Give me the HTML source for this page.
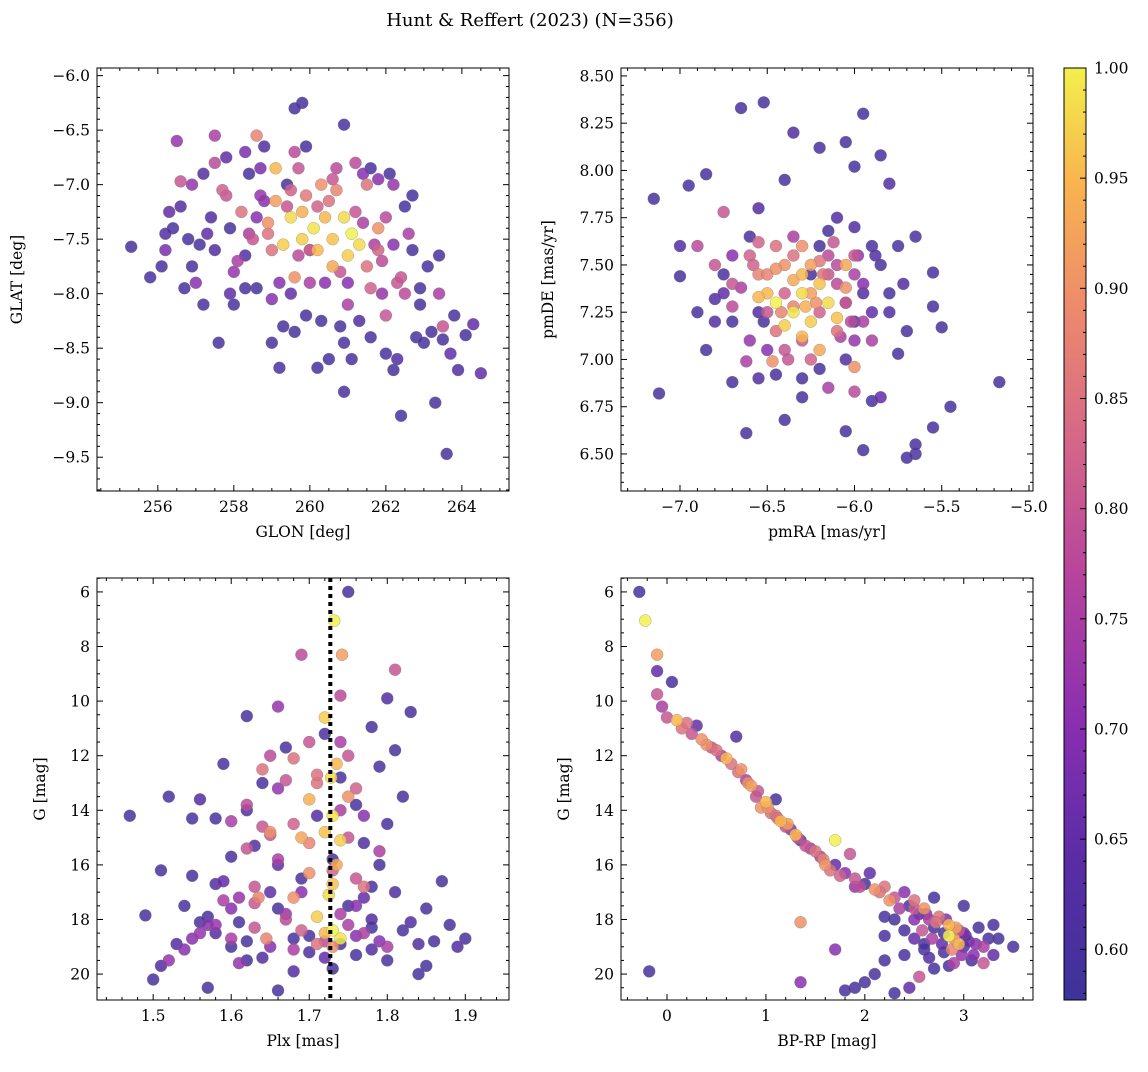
<!DOCTYPE html>
<html><head><meta charset="utf-8">
<style>
body{margin:0;background:#fff;}
svg text{font-family:"DejaVu Serif","Liberation Serif",serif;fill:#000;}
</style></head>
<body>
<svg id="fig" width="1148" height="1067" viewBox="0 0 1148 1067" xmlns="http://www.w3.org/2000/svg">
<rect width="1148" height="1067" fill="#fff"/>
<text x="530" y="26" font-size="18" text-anchor="middle">Hunt &amp; Reffert (2023) (N=356)</text>
<defs>
<linearGradient id="plasma" x1="0" y1="1" x2="0" y2="0">
<stop offset="0" stop-color="#3d3399"/><stop offset="0.15" stop-color="#5a2ca6"/><stop offset="0.3" stop-color="#8a2fb0"/><stop offset="0.45" stop-color="#b5439e"/><stop offset="0.6" stop-color="#d46788"/><stop offset="0.75" stop-color="#ee8c6a"/><stop offset="0.88" stop-color="#f9b54e"/><stop offset="1" stop-color="#f2f04b"/>
</linearGradient>
</defs>
</svg>
<script>
// ---- data ----
const p1Lon=[255.3,255.8,256.1,256.2,256.3,256.6,256.8,256.7,257.1,257.3,257.5,257.2,257.6,258.0,258.3,258.6,259.0,259.3,259.6,259.2,259.9,260.2,260.5,260.8,261.1,261.3,260.9,261.6,262.0,262.2,262.4,262.8,263.0,263.2,263.3,263.5,263.6,263.9,264.1,264.3,264.5,263.7,262.9,263.4,262.5,262.1,262.7,261.6,260.9,259.8,259.6,259.9,258.8,258.4,259.4,257.8,258.3,257.5,256.5,256.9,256.2,257.0,258.1,258.6,260.0,260.4,261.0,262.0,262.5,263.4,262.3,261.8,261.5,259.5,259.8,260.1,260.4,260.6,260.9,261.1,261.3,261.0,260.6,260.2,259.8,259.3,259.1,258.9,259.1,259.6,260.3,260.7,261.5,261.8,258.6,258.2,259.9,260.0,259.0,258.5,257.8,257.5,256.6,257.7,261.6,262.0,262.6,263.5,259.7,260.7,261.2,258.7,262.2,261.8,
258.9,259.4,259.7,260.2,260.8,261.4,261.9,262.4,258.4,258.0,257.9,258.8,259.5,260.5,261.2,261.7,262.2,262.7,260.0,259.2,258.3,257.4,256.9,257.9,259.0,260.3,261.0,261.9,262.9,263.1,260.6,261.4,259.6,258.7,256.4,257.2,259.5,260.9,262.3,263.8];
const p1Lat=[-7.57,-7.85,-7.75,-7.45,-7.25,-7.2,-7.5,-7.95,-7.55,-7.45,-7.6,-8.1,-8.45,-8.1,-7.65,-7.95,-8.45,-8.3,-8.35,-8.68,-8.2,-8.68,-8.6,-8.3,-8.6,-8.25,-8.9,-8.4,-8.55,-8.7,-9.12,-8.4,-8.45,-8.35,-9.0,-8.42,-9.47,-8.7,-8.38,-8.28,-8.73,-8.55,-7.95,-7.65,-7.2,-6.9,-7.1,-6.85,-6.45,-6.25,-6.3,-6.65,-6.65,-6.9,-7.0,-6.75,-6.7,-6.55,-6.6,-7.0,-7.6,-7.9,-7.7,-7.3,-7.6,-7.9,-8.1,-8.2,-8.0,-8.0,-7.9,-7.6,-7.75,-7.3,-7.5,-7.4,-7.3,-7.5,-7.3,-7.45,-7.55,-7.65,-7.75,-7.6,-7.25,-7.55,-7.15,-7.35,-6.85,-7.85,-7.0,-7.05,-7.0,-7.4,-6.55,-7.25,-7.1,-7.6,-7.6,-7.5,-7.1,-6.8,-6.97,-7.05,-7.95,-7.3,-7.45,-8.3,-6.85,-6.85,-6.8,-7.1,-7.0,-6.95,
-7.45,-7.2,-7.65,-7.2,-7.8,-7.35,-7.7,-7.85,-7.45,-7.8,-7.4,-7.15,-7.05,-7.15,-7.25,-7.55,-7.55,-7.6,-7.9,-7.9,-7.95,-7.3,-7.75,-8.0,-8.05,-8.25,-7.9,-8.0,-8.1,-7.75,-6.95,-6.9,-6.7,-6.85,-7.4,-6.9,-8.0,-8.45,-8.6,-8.2];
const p1Prob=[.6,.6,.6,.62,.65,.62,.6,.6,.6,.65,.62,.6,.6,.6,.62,.6,.6,.6,.6,.6,.6,.6,.6,.6,.6,.62,.6,.6,.6,.6,.6,.6,.6,.6,.6,.6,.6,.62,.6,.65,.65,.65,.6,.6,.6,.6,.6,.6,.6,.6,.6,.6,.62,.6,.6,.65,.68,.75,.72,.72,.68,.7,.75,.7,.72,.7,.75,.8,.78,.75,.8,.82,.85,.98,.97,.99,.95,.96,.98,1.0,.98,.97,.93,.95,.94,.97,.92,.9,.95,.9,.9,.88,.85,.9,.88,.85,.86,.82,.85,.8,.8,.78,.8,.82,.82,.78,.75,.8,.8,.78,.78,.72,.72,.7,
.85,.8,.78,.82,.8,.75,.78,.8,.75,.72,.6,.7,.82,.85,.8,.75,.7,.6,.75,.7,.6,.62,.6,.65,.7,.6,.7,.72,.6,.6,.8,.7,.78,.68,.6,.62,.65,.6,.62,.6];

const p2Ra=[-7.15,-7.12,-7.0,-6.95,-7.0,-6.85,-6.8,-6.7,-6.65,-6.52,-6.62,-6.55,-6.45,-6.4,-6.3,-6.35,-6.2,-6.05,-5.95,-6.0,-5.85,-5.8,-5.65,-5.55,-5.55,-5.5,-5.55,-5.45,-5.17,-5.65,-5.7,-5.65,-5.95,-6.05,-5.85,-5.9,-5.75,-5.8,-5.85,-5.9,-6.1,-6.2,-6.4,-6.55,-6.6,-6.75,-6.85,-6.7,-6.55,-6.25,-6.0,-6.05,-6.2,-6.3,-5.95,-6.15,-6.0,-5.75,-5.7,-6.9,-6.75,-6.8,-6.7,-6.62,-6.5,-6.4,-6.2,-6.1,-6.05,-6.0,-6.1,-6.35,-6.45,-6.55,-6.3,-6.15,-6.0,-5.9,-6.25,-6.35,-6.0,-5.95,-6.45,-6.35,-6.3,-6.25,-6.2,-6.15,-6.4,-6.3,-6.1,-6.5,-6.25,-6.05,-6.2,-6.55,-6.35,-6.47,-6.0,-6.05,-6.4,
-6.7,-6.6,-6.5,-6.45,-6.3,-6.15,-6.05,-5.95,-6.25,-6.4,-6.6,-6.75,-6.55,-6.35,-6.1,-5.9,-6.0,-6.2,-6.45,-6.65,-6.8,-6.3,-6.12,-5.88,-6.5,-6.22,-6.02,-5.8,-6.58,-6.38,-6.18,-6.28,-6.42,-6.08,-5.98,-6.52,-6.7,-6.9,-5.72,-6.15];
const p2De=[7.85,6.82,7.6,7.92,7.44,7.98,7.32,7.2,8.33,8.36,6.61,6.9,6.92,6.68,6.8,8.2,8.12,8.15,8.3,8.02,8.08,7.93,7.65,7.46,7.28,7.17,6.64,6.75,6.88,6.5,6.48,6.55,6.52,6.62,6.8,6.78,7.03,7.25,7.5,7.6,7.75,7.6,7.95,7.8,7.65,7.45,7.05,6.88,7.25,7.45,7.2,7.0,6.95,6.9,7.35,7.68,7.7,7.6,7.15,7.6,7.78,7.5,7.28,6.99,7.25,7.35,7.25,7.15,7.3,7.45,7.5,7.55,7.6,7.45,7.1,6.85,6.83,7.1,7.0,7.65,7.55,7.2,7.3,7.25,7.35,7.2,7.4,7.3,7.18,7.12,7.22,7.35,7.5,7.5,7.05,7.33,7.42,6.99,6.96,7.38,7.5,
7.4,7.55,7.45,7.15,7.6,7.45,7.3,7.4,7.35,7.05,7.1,7.35,7.62,7.28,7.4,7.25,7.1,7.52,7.48,7.38,7.2,7.45,7.62,7.55,7.05,7.3,7.2,7.35,7.5,7.0,7.45,7.28,7.25,7.12,7.55,7.2,7.55,7.25,7.4,7.55];
const p2Prob=[.6,.6,.62,.6,.6,.6,.62,.6,.6,.6,.6,.62,.6,.6,.6,.62,.6,.6,.6,.6,.6,.62,.6,.6,.6,.6,.6,.6,.6,.6,.6,.6,.6,.6,.65,.6,.6,.62,.6,.6,.62,.6,.6,.62,.6,.6,.6,.6,.62,.6,.6,.62,.6,.6,.62,.6,.62,.6,.6,.78,.8,.8,.78,.75,.8,.82,.82,.85,.8,.75,.78,.85,.85,.88,.8,.75,.78,.75,.82,.75,.8,.75,1.0,.99,.98,.97,.96,.98,.97,.95,.96,.95,.92,.93,.93,.95,.93,.9,.9,.9,.9,
.8,.82,.88,.85,.9,.8,.75,.7,.92,.8,.72,.65,.82,.88,.78,.65,.72,.86,.9,.75,.62,.95,.8,.62,.7,.9,.78,.6,.82,.8,.85,.94,.88,.75,.72,.6,.7,.6,.62,.78];

const p3Plx=[1.47,1.49,1.51,1.51,1.5,1.52,1.53,1.54,1.55,1.55,1.56,1.57,1.58,1.58,1.59,1.6,1.62,1.62,1.62,1.64,1.65,1.66,1.67,1.68,1.69,1.7,1.71,1.73,1.74,1.75,1.76,1.77,1.78,1.78,1.79,1.8,1.81,1.8,1.82,1.83,1.83,1.84,1.85,1.85,1.87,1.88,1.89,1.9,1.86,1.8,1.78,1.76,1.74,1.7,1.68,1.66,1.64,1.62,1.6,1.58,1.57,1.61,1.66,1.63,1.79,1.81,1.75,1.73,1.77,1.72,1.56,1.59,1.6,1.62,1.64,1.65,1.67,1.69,1.7,1.71,1.73,1.74,1.75,1.76,1.77,1.79,1.81,1.72,1.68,1.63,1.66,1.74,1.8,1.61,1.52,1.55,1.732,1.742,1.72,1.728,1.735,1.73,1.72,1.74,1.73,1.725,1.71,1.73,1.74,1.72,1.7,1.69,1.68,1.645,1.635,1.65,1.75,1.77,1.735,1.7,
1.58,1.6,1.63,1.65,1.67,1.69,1.71,1.75,1.76,1.78,1.79,1.82,1.84,1.62,1.64,1.66,1.68,1.7,1.74,1.76,1.6,1.56,1.54,1.59,1.63,1.67,1.71,1.75,1.77,1.72,1.74,1.69,1.65,1.61,1.57,1.73,1.76,1.78,1.68,1.66];
const p3G=[14.2,17.85,16.2,19.7,20.2,13.5,18.9,17.5,14.3,16.4,13.6,20.5,14.3,16.7,12.3,15.7,10.55,14.0,19.5,13.0,17.0,20.6,11.7,19.9,16.5,18.6,14.2,15.8,12.8,6.0,13.8,15.2,10.95,18.3,12.4,9.9,11.8,14.5,13.5,10.4,18.1,20.0,19.7,17.6,16.6,18.2,19.0,18.7,18.8,19.5,18.0,19.3,18.9,19.2,18.7,17.6,19.4,18.8,19.0,18.5,17.9,18.1,16.0,15.3,16.0,17.0,17.5,19.8,17.2,11.2,18.5,17.3,14.4,15.4,12.5,14.9,12.9,8.3,11.5,13.0,16.2,9.8,15.0,16.5,18.5,15.5,8.85,18.8,19.1,17.4,10.2,11.5,19.0,19.6,19.5,18.7,7.05,8.3,10.6,12.8,12.3,14.2,14.8,15.1,16.7,17.1,17.9,18.4,18.7,18.5,13.6,15.0,17.2,18.7,17.2,14.8,13.5,16.8,16.0,16.3,
18.2,18.7,18.3,19.0,18.0,18.4,18.9,18.2,18.6,19.1,18.8,18.4,18.9,13.8,14.6,13.2,14.5,15.2,14.0,13.2,17.6,18.1,19.1,16.6,16.8,17.8,12.7,12.0,14.2,19.4,17.8,17.0,12.0,17.2,18.2,19.0,17.5,16.8,12.1,15.8];
const p3Prob=[.6,.6,.6,.62,.6,.6,.62,.6,.6,.6,.62,.6,.6,.62,.6,.6,.6,.62,.6,.6,.65,.6,.6,.62,.6,.6,.62,.6,.6,.6,.6,.62,.6,.6,.6,.62,.6,.6,.6,.6,.62,.6,.6,.6,.6,.6,.62,.6,.6,.6,.62,.6,.6,.62,.6,.6,.62,.6,.6,.62,.6,.6,.65,.62,.6,.62,.6,.6,.65,.6,.72,.75,.75,.8,.85,.8,.8,.78,.8,.85,.82,.78,.8,.8,.75,.75,.8,.78,.75,.8,.72,.75,.75,.72,.72,.7,1.0,.92,.97,.98,.95,.99,.96,.97,.96,.98,.97,1.0,.99,.95,.94,.93,.9,.88,.88,.9,.9,.85,.93,.9,
.72,.75,.8,.7,.78,.82,.85,.75,.7,.62,.7,.6,.62,.78,.8,.72,.82,.88,.75,.82,.7,.6,.7,.65,.8,.72,.85,.8,.7,.65,.75,.7,.78,.72,.7,.9,.7,.6,.85,.75];

const p4Col=[-0.28,-0.22,-0.1,-0.1,-0.1,-0.05,0.0,0.05,0.1,0.15,0.25,0.3,0.4,0.5,0.55,0.65,0.7,0.75,0.8,0.85,0.9,1.0,1.05,1.1,1.15,1.2,1.25,1.3,1.35,1.4,1.5,1.55,1.6,1.7,1.65,1.7,1.8,1.85,1.9,2.0,2.05,2.1,2.2,2.3,2.4,2.45,2.5,2.55,2.6,2.65,2.7,2.75,2.8,2.85,2.9,2.95,3.0,3.05,3.1,3.15,3.2,3.25,3.3,3.35,3.5,2.9,2.8,2.7,2.6,2.5,2.4,2.3,2.2,2.55,2.2,2.1,2.0,1.9,1.8,2.3,2.45,1.35,1.35,1.7,-0.18,3.0,2.7,2.95,2.85,3.2,1.1,0.95,
0.2,0.35,0.45,0.6,0.72,0.82,0.92,1.02,1.12,1.22,1.32,1.45,1.58,1.75,1.95,2.15,2.25,2.35,2.5,2.62,2.72,2.82,2.92,3.02,3.12,2.58,2.68,2.78,2.88,2.98,3.08,2.4,2.5,2.65,2.85,3.0,2.2,1.9,2.6,3.3];
const p4G=[6.0,7.05,8.3,8.9,9.75,10.2,10.6,9.3,10.7,11.0,11.2,10.9,11.6,11.8,12.0,12.3,11.3,12.5,12.9,13.1,13.5,13.7,14.1,13.6,14.4,14.6,14.7,14.9,15.1,15.3,15.5,15.7,16.0,15.1,16.2,16.0,16.3,15.6,16.5,16.7,16.3,16.9,16.8,17.2,17.0,17.5,17.3,17.8,17.6,18.0,18.3,17.9,18.5,18.2,18.7,18.4,19.0,18.8,19.3,18.3,19.0,18.7,18.2,18.7,19.0,19.6,19.2,19.8,19.1,18.7,19.3,18.0,18.6,20.1,19.5,20.0,20.3,20.5,20.6,20.7,20.5,20.3,18.1,19.1,19.9,17.5,17.2,18.9,18.6,19.6,14.2,13.9,
10.8,11.4,11.7,12.1,12.6,13.0,13.3,13.9,14.3,14.5,15.0,15.4,15.8,16.4,16.8,17.0,17.3,17.6,17.6,17.8,18.1,18.0,18.3,18.6,18.9,18.4,18.7,18.9,19.1,19.3,19.5,18.4,18.0,19.4,19.7,18.5,17.9,16.8,18.9,19.3];
const p4Prob=[.6,1.0,.92,.65,.8,.75,.8,.6,.95,.85,.8,.65,.9,.85,.75,.85,.62,.9,.75,.92,.8,.95,.85,.6,.95,.8,.7,.95,.65,.8,.85,.75,.9,1.0,.85,.65,.7,.8,.8,.6,.65,.9,.85,.8,.7,.6,.85,.6,.9,.75,.6,.85,.6,.95,.9,.8,.6,.65,.7,.6,.75,.6,.6,.6,.6,.75,.6,.6,.6,.65,.6,.6,.6,.8,.6,.6,.6,.6,.6,.6,.65,.7,.9,.7,.6,.6,.6,.95,1.0,.8,.85,.9,
.85,.9,.8,.95,.85,.9,.8,.9,.85,.92,.8,.75,.88,.82,.78,.85,.9,.75,.8,.7,.85,.7,.92,.65,.7,.8,.75,.65,.88,.72,.6,.6,.7,.62,.6,.68,.6,.72,.6,.65];

const cbTicks=[0.60,0.65,0.70,0.75,0.80,0.85,0.90,0.95,1.00];
// ---- rendering ----
const NS="http://www.w3.org/2000/svg";
const svg=document.getElementById('fig');
function mk(tag,attrs,parent){const e=document.createElementNS(NS,tag);for(const k in attrs)e.setAttribute(k,attrs[k]);(parent||svg).appendChild(e);return e;}
const stops=[[0,[61,51,153]],[0.15,[90,44,166]],[0.3,[138,47,176]],[0.45,[181,67,158]],[0.6,[212,103,136]],[0.75,[238,140,106]],[0.88,[249,181,78]],[1,[242,240,75]]];
const VMIN=0.577,VMAX=1.0;
function cmap(v){let t=(v-VMIN)/(VMAX-VMIN);t=Math.max(0,Math.min(1,t));for(let i=1;i<stops.length;i++){if(t<=stops[i][0]){const a=stops[i-1],b=stops[i];const f=(t-a[0])/(b[0]-a[0]);return 'rgb('+a[1].map((c,j)=>Math.round(c+(b[1][j]-c)*f)).join(',')+')';}}return 'rgb(242,240,75)';}
function fmt(v,d){return (v<0?'\u2212':'')+Math.abs(v).toFixed(d);}
function panel(cfg){
  const {L,R,T,B,x0,x1,y0,y1,xs,ys,name}=cfg;
  const g=mk('g',{});
  
  
  const sx=v=>L+(v-x0)/(x1-x0)*(R-L);
  const sy=v=>T+(v-y0)/(y1-y0)*(B-T);
  const clipId='c'+name;
  const cp=mk('clipPath',{id:clipId},g);mk('rect',{x:L,y:T,width:R-L,height:B-T},cp);
  const pts=mk('g',{'clip-path':'url(#'+clipId+')'},g);
  const order=cfg.p.map((v,i)=>i).sort((a,b)=>cfg.p[a]-cfg.p[b]);
  for(const i of order){
    const c=mk('circle',{cx:sx(cfg.x[i]),cy:sy(cfg.y[i]),r:6,fill:cmap(cfg.p[i]),'fill-opacity':0.85,stroke:'#777','stroke-width':0.3},pts);
    
    
  }
  if(cfg.vline!==undefined){
    const l=mk('line',{x1:sx(cfg.vline),x2:sx(cfg.vline),y1:T,y2:B,stroke:'#000','stroke-width':4,'stroke-dasharray':'4,4'},g);
    
    
  }
  mk('rect',{x:L,y:T,width:R-L,height:B-T,fill:'none',stroke:'#000','stroke-width':1},g);
  const lo=Math.min(x0,x1),hi=Math.max(x0,x1);
  for(let k=Math.ceil(lo/xs.minor-1e-6);k*xs.minor<=hi+1e-9;k++){
    const v=k*xs.minor;const X=sx(v);
    const major=Math.abs(v/xs.major-Math.round(v/xs.major))<1e-6;const len=major?6:3;
    mk('line',{x1:X,x2:X,y1:B,y2:B-len,stroke:'#000'},g);mk('line',{x1:X,x2:X,y1:T,y2:T+len,stroke:'#000'},g);
    if(major){const t=mk('text',{x:X,y:B+21,'font-size':15.5,'text-anchor':'middle'},g);t.textContent=fmt(v,xs.dec);
      
      }
  }
  const ylo=Math.min(y0,y1),yhi=Math.max(y0,y1);
  for(let k=Math.ceil(ylo/ys.minor-1e-6);k*ys.minor<=yhi+1e-9;k++){
    const v=k*ys.minor;const Y=sy(v);
    const major=Math.abs(v/ys.major-Math.round(v/ys.major))<1e-6;const len=major?6:3;
    mk('line',{x1:L,x2:L+len,y1:Y,y2:Y,stroke:'#000'},g);mk('line',{x1:R,x2:R-len,y1:Y,y2:Y,stroke:'#000'},g);
    if(major){const t=mk('text',{x:L-7,y:Y+5.5,'font-size':15.5,'text-anchor':'end'},g);t.textContent=fmt(v,ys.dec);
      
      }
  }
  const xl=mk('text',{x:(L+R)/2,y:B+46,'font-size':15.5,'text-anchor':'middle'},g);xl.textContent=cfg.xlabel;
  
  
  const yx=cfg.ylx,yy=(T+B)/2;
  const yl=mk('text',{x:yx,y:yy,'font-size':15.5,'text-anchor':'middle',transform:'rotate(-90 '+yx+' '+yy+')'},g);yl.textContent=cfg.ylabel;
  
  
}
panel({name:'glon-glat-panel',L:97,R:509,T:68,B:491,x0:254.4,x1:265.24,y0:-5.93,y1:-9.81,xs:{major:2,minor:0.5,dec:0},ys:{major:0.5,minor:0.1,dec:1},x:p1Lon,y:p1Lat,p:p1Prob,xlabel:'GLON [deg]',ylabel:'GLAT [deg]',ylx:22});
panel({name:'proper-motion-panel',L:621,R:1033,T:68,B:491,x0:-7.338,x1:-4.977,y0:8.542,y1:6.304,xs:{major:0.5,minor:0.1,dec:1},ys:{major:0.25,minor:0.05,dec:2},x:p2Ra,y:p2De,p:p2Prob,xlabel:'pmRA [mas/yr]',ylabel:'pmDE [mas/yr]',ylx:553});
panel({name:'parallax-mag-panel',L:97,R:509,T:578,B:1000,x0:1.428,x1:1.956,y0:5.49,y1:20.95,xs:{major:0.1,minor:0.02,dec:1},ys:{major:2,minor:0.5,dec:0},x:p3Plx,y:p3G,p:p3Prob,vline:1.727,xlabel:'Plx [mas]',ylabel:'G [mag]',ylx:45});
panel({name:'cmd-panel',L:621,R:1033,T:578,B:1000,x0:-0.465,x1:3.70,y0:5.49,y1:20.95,xs:{major:1,minor:0.2,dec:0},ys:{major:2,minor:0.5,dec:0},x:p4Col,y:p4G,p:p4Prob,xlabel:'BP-RP [mag]',ylabel:'G [mag]',ylx:569});
const cb=mk('g',{});


const CT=68,CB=1000,CL=1064,CR=1086;
mk('rect',{x:CL,y:CT,width:CR-CL,height:CB-CT,fill:'url(#plasma)',stroke:'#000','stroke-width':1},cb);
const cy=v=>CB-(v-VMIN)/(VMAX-VMIN)*(CB-CT);
for(let k=58;k<=100;k++){const v=k/100;const Y=cy(v);const major=k%5===0;
  mk('line',{x1:CR,x2:CR-(major?6:3),y1:Y,y2:Y,stroke:'#000'},cb);}
for(const v of cbTicks){const t=mk('text',{x:CR+8,y:cy(v)+5.5,'font-size':15.5},cb);t.textContent=v.toFixed(2);
  
  }
</script>
</body></html>
